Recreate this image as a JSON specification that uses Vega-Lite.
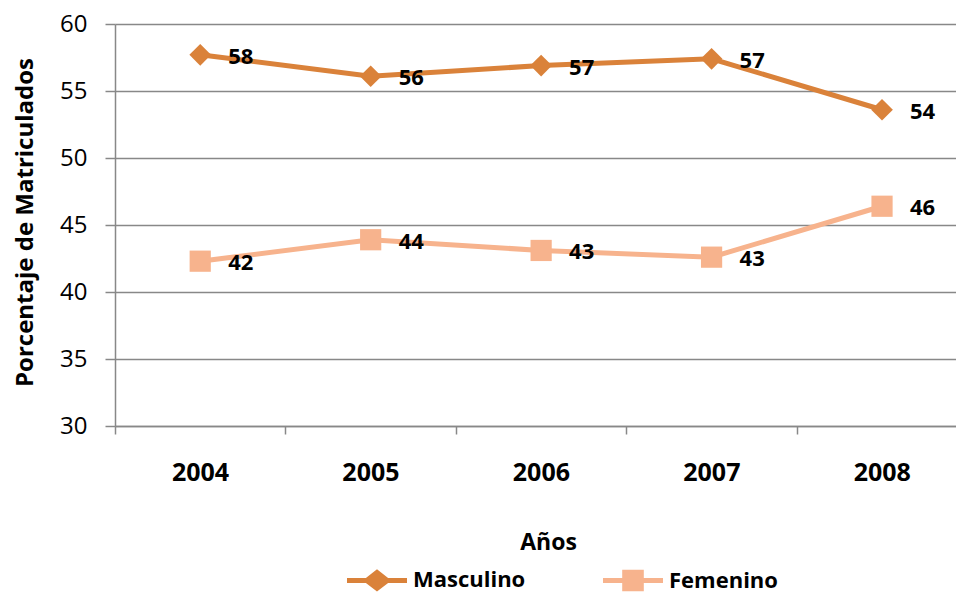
{
  "$schema": "https://vega.github.io/schema/vega-lite/v6.json",
  "autosize": {"type": "none"},
  "padding": {"left": 115, "top": 24, "right": 0, "bottom": 168},
  "width": 841,
  "height": 402,
  "background": "white",
  "config": {
    "view": {"stroke": null},
    "font": "Open Sans"
  },
  "data": {
    "values": [
      {"year": 2004, "series": "Masculino", "value": 57.7},
      {"year": 2005, "series": "Masculino", "value": 56.1},
      {"year": 2006, "series": "Masculino", "value": 56.9},
      {"year": 2007, "series": "Masculino", "value": 57.4},
      {"year": 2008, "series": "Masculino", "value": 53.6},
      {"year": 2004, "series": "Femenino", "value": 42.3},
      {"year": 2005, "series": "Femenino", "value": 43.9},
      {"year": 2006, "series": "Femenino", "value": 43.1},
      {"year": 2007, "series": "Femenino", "value": 42.6},
      {"year": 2008, "series": "Femenino", "value": 46.4}
    ]
  },
  "encoding": {
    "x": {
      "field": "year",
      "type": "quantitative",
      "scale": {"domain": [2003.5, 2008.434], "nice": false, "zero": false},
      "axis": {
        "title": "Años",
        "values": [2003.5, 2004.5, 2005.5, 2006.5, 2007.5],
        "labelExpr": "'' + (datum.value + 0.5)",
        "labelOffset": 85,
        "labelFlush": false,
        "labelOverlap": false,
        "labelBound": false,
        "grid": false,
        "domainColor": "#888888",
        "domainWidth": 1.5,
        "tickColor": "#888888",
        "tickWidth": 1.5,
        "tickSize": 8,
        "labelFont": "Open Sans",
        "labelFontSize": 25,
        "labelFontWeight": "bold",
        "labelColor": "#000000",
        "labelBaseline": "alphabetic",
        "labelPadding": 46,
        "titleFont": "Open Sans",
        "titleFontSize": 23,
        "titleFontWeight": "bold",
        "titleColor": "#000000",
        "titleBaseline": "alphabetic",
        "titleAlign": "center",
        "titleX": 433,
        "titleY": 123
      }
    },
    "y": {
      "field": "value",
      "type": "quantitative",
      "scale": {"domain": [30, 60], "nice": false, "zero": false},
      "axis": {
        "title": "Porcentaje de Matriculados",
        "values": [30, 35, 40, 45, 50, 55, 60],
        "grid": true,
        "gridColor": "#888888",
        "gridWidth": 1.5,
        "domainColor": "#888888",
        "domainWidth": 1.5,
        "tickColor": "#888888",
        "tickWidth": 1.5,
        "tickSize": 10,
        "labelFont": "Open Sans",
        "labelFontSize": 24,
        "labelColor": "#000000",
        "labelPadding": 18,
        "titleFont": "Open Sans",
        "titleFontSize": 24,
        "titleFontWeight": "bold",
        "titleColor": "#000000",
        "titleAngle": 270,
        "titleBaseline": "alphabetic",
        "titleAlign": "center",
        "titleX": -83,
        "titleY": 198
      }
    }
  },
  "layer": [
    {
      "mark": {"type": "line", "strokeWidth": 5},
      "encoding": {
        "color": {
          "field": "series",
          "type": "nominal",
          "scale": {"domain": ["Masculino", "Femenino"], "range": ["#DA823A", "#F7B38D"]},
          "legend": {
            "orient": "none",
            "legendX": 232,
            "legendY": 526,
            "direction": "horizontal",
            "title": null,
            "padding": 0,
            "symbolSize": 3600,
            "symbolType": "circle",
            "labelFont": "Open Sans",
            "labelFontSize": 22,
            "labelFontWeight": "bold",
            "labelColor": "#000000",
            "labelOffset": 6,
            "columnPadding": 77,
            "encode": {
              "symbols": {
                "update": {
                  "shape": {"signal": "datum.value === 'Masculino' ? 'M-1,-0.085L-0.37,-0.085L0,-0.37L0.37,-0.085L1,-0.085L1,0.085L0.37,0.085L0,0.37L-0.37,0.085L-1,0.085Z' : 'M-1,-0.085L-0.36,-0.085L-0.36,-0.36L0.36,-0.36L0.36,-0.085L1,-0.085L1,0.085L0.36,0.085L0.36,0.36L-0.36,0.36L-0.36,0.085L-1,0.085Z'"},
                  "fill": {"signal": "datum.value === 'Masculino' ? '#DA823A' : '#F7B38D'"},
                  "fillOpacity": {"value": 1},
                  "stroke": {"value": "transparent"},
                  "strokeWidth": {"value": 0}
                }
              }
            }
          }
        }
      }
    },
    {
      "transform": [{"filter": "datum.series === 'Masculino'"}],
      "mark": {"type": "point", "filled": true, "opacity": 1, "size": 470, "shape": "diamond", "color": "#DA823A"}
    },
    {
      "transform": [{"filter": "datum.series === 'Femenino'"}],
      "mark": {"type": "point", "filled": true, "opacity": 1, "size": 450, "shape": "square", "color": "#F7B38D"}
    },
    {
      "mark": {"type": "text", "align": "left", "baseline": "middle", "dx": 28, "dy": 2, "font": "Open Sans", "fontSize": 22, "fontWeight": "bold", "color": "#000000"},
      "encoding": {
        "text": {"field": "value", "type": "quantitative", "format": ".0f"}
      }
    }
  ]
}
